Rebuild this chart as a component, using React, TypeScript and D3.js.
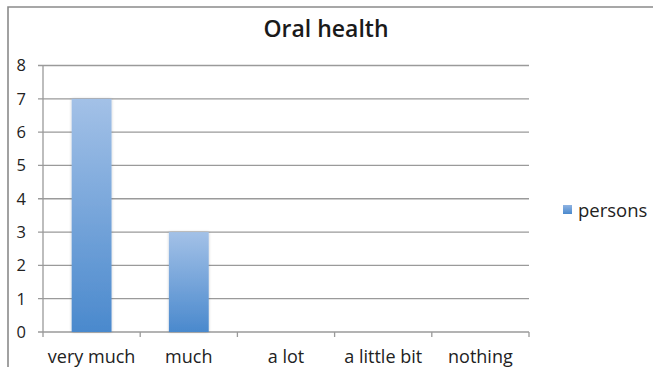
import React from "react";
import * as d3 from "d3";

const categories = ["very much", "much", "a lot", "a little bit", "nothing"];
const persons = [7, 3, 0, 0, 0];
const yTicks = [0, 1, 2, 3, 4, 5, 6, 7, 8];
const seriesName = "persons";
const chartTitle = "Oral health";

const W = 653;
const H = 367;
const plot = { left: 43, right: 529, top: 65.5, bottom: 332 };
const font = "'Open Sans', 'Noto Sans', sans-serif";

export default function App() {
  const x = d3
    .scaleBand<string>()
    .domain(categories)
    .range([plot.left, plot.right])
    .paddingInner(0.59)
    .paddingOuter(0.295);
  const band = d3.scaleBand<string>().domain(categories).range([plot.left, plot.right]);
  const y = d3.scaleLinear().domain([0, 8]).range([plot.bottom, plot.top]);

  return (
    <svg
      width={W}
      height={H}
      style={{ position: "absolute", left: 0, top: 0 }}
      fontFamily={font}
    >
      <defs>
        <linearGradient id="barFill" x1="0" y1="0" x2="0" y2="1">
          <stop offset="0%" stopColor="#a3c1e7" />
          <stop offset="100%" stopColor="#4a89cd" />
        </linearGradient>
        <linearGradient id="legendFill" x1="0" y1="0" x2="0" y2="1">
          <stop offset="0%" stopColor="#8fb3e2" />
          <stop offset="100%" stopColor="#4a89cd" />
        </linearGradient>
        <filter id="barShadow" x="-30%" y="-10%" width="160%" height="120%">
          <feGaussianBlur in="SourceAlpha" stdDeviation="1.8" />
          <feOffset dx="0" dy="0" result="b" />
          <feComponentTransfer>
            <feFuncA type="linear" slope="0.22" />
          </feComponentTransfer>
          <feMerge>
            <feMergeNode />
            <feMergeNode in="SourceGraphic" />
          </feMerge>
        </filter>
      </defs>
      <rect x={0} y={0} width={W} height={H} fill="#ffffff" />
      {/* chart frame */}
      <path d={`M8,${H + 2} V7 H${W + 2}`} fill="none" stroke="#8a8a8a" strokeWidth={1.6} />

      <text
        x={326}
        y={37.3}
        textAnchor="middle"
        fontSize={23}
        fontWeight={600}
        fill="#1a1a1a"
      >
        {chartTitle}
      </text>

      {/* gridlines and y ticks */}
      {yTicks.map((t) => (
        <g key={t}>
          <line
            x1={plot.left - 5}
            x2={plot.right}
            y1={y(t)}
            y2={y(t)}
            stroke="#9a9a9a"
            strokeWidth={1.3}
          />
          <text
            x={26}
            y={y(t)}
            dy="0.36em"
            textAnchor="end"
            fontSize={16.5}
            fill="#222"
          >
            {t}
          </text>
        </g>
      ))}
      <line
        x1={plot.left}
        x2={plot.left}
        y1={plot.top}
        y2={plot.bottom}
        stroke="#9a9a9a"
        strokeWidth={1.3}
      />

      {/* bars */}
      {categories.map((c, i) =>
        persons[i] > 0 ? (
          <rect
            key={c}
            x={x(c)}
            y={y(persons[i])}
            width={x.bandwidth()}
            height={y(0) - y(persons[i])}
            fill="url(#barFill)"
            filter="url(#barShadow)"
          />
        ) : null
      )}

      {/* x axis ticks */}
      {[...categories.map((c) => band(c) as number), plot.right].map((v, i) => (
        <line
          key={i}
          x1={v}
          x2={v}
          y1={plot.bottom}
          y2={plot.bottom + 5}
          stroke="#9a9a9a"
          strokeWidth={1.3}
        />
      ))}
      {categories.map((c) => (
        <text
          key={c}
          x={(band(c) as number) + band.bandwidth() / 2}
          y={362.5}
          textAnchor="middle"
          fontSize={18}
          fill="#222"
        >
          {c}
        </text>
      ))}

      {/* legend */}
      <rect x={563} y={205} width={9} height={9} fill="url(#legendFill)" />
      <text x={578} y={216.5} fontSize={18.5} fill="#222">
        {seriesName}
      </text>
    </svg>
  );
}
